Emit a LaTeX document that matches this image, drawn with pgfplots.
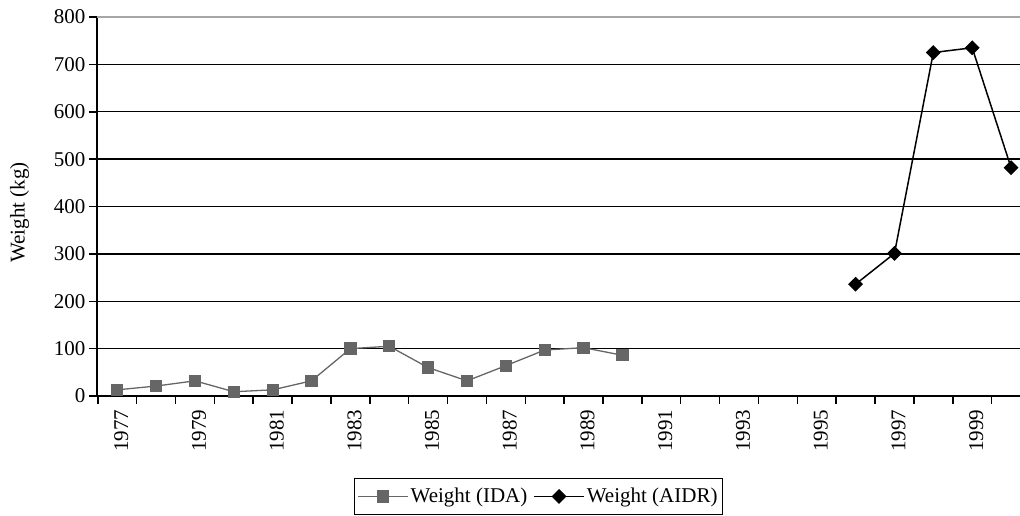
\documentclass[border=0pt]{standalone}
\usepackage{fontspec}
\setmainfont{Liberation Serif}
\usepackage{pgfplots}
\pgfplotsset{compat=1.18}
\definecolor{idagray}{RGB}{102,102,102}
\begin{document}
\begin{tikzpicture}[font=\fontsize{21}{25}\selectfont]
\begin{axis}[scale only axis, width=923pt, height=379pt,
  xmin=-0.52, xmax=23.23, ymin=0, ymax=800,
  axis x line*=bottom, axis y line*=left,
  axis line style={line width=2pt, -},
  /pgf/number format/assume math mode=true,
  ytick={0,100,...,700}, extra y ticks={800},
  extra y tick style={grid style={gray!70, line width=1.5pt}},
  ymajorgrids, grid style={black, line width=1.3pt},
  xtick={0,2,...,22},
  xticklabels={1977,1979,1981,1983,1985,1987,1989,1991,1993,1995,1997,1999},
  minor xtick={-0.5,0.5,...,22.5},
  major x tick style={draw=none},
  minor x tick style={black, line width=1.5pt},
  major y tick style={black, line width=1.5pt},
  tick align=outside, major tick length=8pt, minor tick length=8pt,
  xticklabel style={rotate=90, anchor=east, yshift=-4pt, xshift=-2pt},
  ylabel={Weight (kg)},
  ylabel style={xshift=-6pt, yshift=2pt},
  legend style={at={(rel axis cs:0.2784,-0.2164)}, anchor=north west,
    legend columns=-1, draw=black, line width=0.8pt, inner ysep=8pt,
    /tikz/every even column/.append style={column sep=4pt}},
  legend image code/.code={\draw[mark repeat=2, mark phase=2] plot coordinates {(0pt,0pt) (25pt,0pt) (50pt,0pt)};},
]
\addplot[color=idagray, line width=1.3pt, mark=square*, mark size=5.5pt,
  mark options={fill=idagray, draw=idagray}] coordinates {
(0,13) (1,21) (2,32) (3,9) (4,13) (5,32) (6,100) (7,105) (8,60) (9,32) (10,64) (11,97) (12,102) (13,86)
}; \addlegendentry{Weight (IDA)}
\addplot[color=black, line width=1.5pt, mark=square*, mark size=4.5pt,
  mark options={rotate=45, fill=black}] coordinates {
(19,236) (20,301) (21,725) (22,735) (23,482)
}; \addlegendentry{Weight (AIDR)}
\end{axis}
\pgfresetboundingbox
\path (-97pt,-120pt) rectangle (923pt,396pt);
\end{tikzpicture}
\end{document}
